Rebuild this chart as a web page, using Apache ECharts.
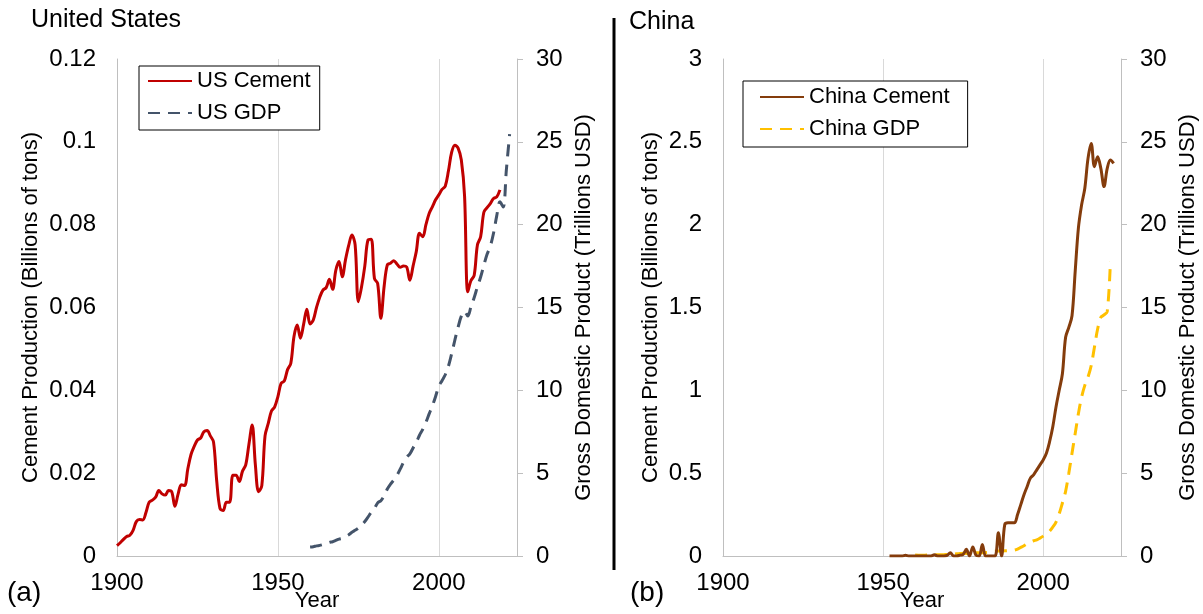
<!DOCTYPE html>
<html>
<head>
<meta charset="utf-8">
<script src="https://cdn.jsdelivr.net/npm/echarts@6/dist/echarts.min.js"></script>
<style>
  html, body { margin: 0; padding: 0; background: #fff; }
  #chart { width: 1203px; height: 614px; }
</style>
</head>
<body>
<div id="chart"></div>
<script>
// values
const usCementStart = 1900;
const usCement = [
  0.0025, 0.0032, 0.0040, 0.0047, 0.0050, 0.0062, 0.0083, 0.0088, 0.0087, 0.0105,
  0.0130, 0.0135, 0.0142, 0.0158, 0.0150, 0.0147, 0.0158, 0.0155, 0.0120, 0.0150,
  0.0172, 0.0170, 0.0210, 0.0245, 0.0265, 0.0280, 0.0285, 0.0300, 0.0303, 0.0290,
  0.0275, 0.0180, 0.0115, 0.0110, 0.0130, 0.0130, 0.0195, 0.0195, 0.0180, 0.0205,
  0.0220, 0.0270, 0.0316, 0.0220, 0.0155, 0.0170, 0.0290, 0.0320, 0.0350, 0.0360,
  0.0385, 0.0417, 0.0423, 0.0450, 0.0465, 0.0530, 0.0558, 0.0526, 0.0560, 0.0596,
  0.0560, 0.0570, 0.0600, 0.0625, 0.0642, 0.0648, 0.0668, 0.0644, 0.0690, 0.0711,
  0.0674, 0.0715, 0.0750, 0.0775, 0.0751, 0.0614, 0.0650, 0.0700, 0.0763, 0.0765,
  0.0670, 0.0658, 0.0574, 0.0650, 0.0703, 0.0707, 0.0713, 0.0705, 0.0697, 0.0700,
  0.0698, 0.0666, 0.0700, 0.0735, 0.0779, 0.0771, 0.0800, 0.0827, 0.0843, 0.0860,
  0.0872, 0.0885, 0.0893, 0.0930, 0.0975, 0.0992, 0.0985, 0.0956, 0.0870, 0.0638,
  0.0665, 0.0678, 0.0751, 0.0771, 0.0830, 0.0841, 0.0851, 0.0863, 0.0867, 0.0884
];

const usGdpStart = 1960;
const usGdp = [
  0.54, 0.56, 0.61, 0.64, 0.69, 0.74, 0.82, 0.86, 0.94, 1.02,
  1.07, 1.17, 1.28, 1.43, 1.55, 1.68, 1.87, 2.08, 2.35, 2.63,
  2.86, 3.21, 3.34, 3.63, 4.04, 4.34, 4.58, 4.86, 5.24, 5.64,
  5.96, 6.16, 6.52, 6.86, 7.29, 7.64, 8.07, 8.58, 9.06, 9.63,
  10.25, 10.58, 10.94, 11.46, 12.21, 13.04, 13.82, 14.48, 14.77, 14.48,
  15.05, 15.60, 16.25, 16.84, 17.55, 18.21, 18.70, 19.48, 20.53, 21.38,
  21.06, 23.32, 25.46
];

const chinaCementStart = 1952;
const chinaCement = [
  0, 0, 0, 0, 0, 0.004, 0, 0, 0, 0,
  0, 0, 0, 0, 0.007, 0, 0, 0, 0.004, 0.02,
  0, 0, 0.005, 0.01, 0.04, 0, 0.055, 0.005, 0, 0.07,
  0, 0, 0, 0, 0.14, 0, 0.19, 0.20, 0.20, 0.20,
  0.25, 0.31, 0.37, 0.42, 0.47, 0.49, 0.52, 0.55, 0.58, 0.62,
  0.69, 0.78, 0.90, 1.00, 1.10, 1.32, 1.38, 1.45, 1.72, 1.98,
  2.12, 2.22, 2.40, 2.49, 2.35, 2.41, 2.34, 2.23, 2.34, 2.39,
  2.37
];

const chinaGdpStart = 1960;
const chinaGdp = [
  0.06, 0.05, 0.047, 0.05, 0.06, 0.07, 0.076, 0.073, 0.071, 0.08,
  0.093, 0.10, 0.114, 0.14, 0.145, 0.163, 0.155, 0.175, 0.18, 0.19,
  0.20, 0.20, 0.21, 0.23, 0.26, 0.29, 0.30, 0.30, 0.31, 0.32,
  0.33, 0.36, 0.42, 0.52, 0.62, 0.74, 0.84, 0.92, 0.98, 1.08,
  1.20, 1.34, 1.50, 1.75, 2.05, 2.55, 3.20, 3.90, 5.00, 6.20,
  7.40, 8.60, 9.60, 10.30, 10.80, 11.50, 12.60, 13.70, 14.40, 14.55,
  14.75, 17.80
];

const yearTicks = [1900, 1950, 2000];

function pairs(start, values) {
  return values.map((v, i) => [start + i, v]);
}

const FONT = "'Liberation Sans', Arial, sans-serif";
const AXIS_GREY = '#bfbfbf';
const GRID_GREY = '#d9d9d9';

function xAxisFor(gridIndex) {
  return {
    gridIndex,
    type: 'value',
    min: 1900,
    max: 2024.3,
    interval: 50,
    name: 'Year',
    nameLocation: 'middle',
    nameGap: 34,
    nameMoveOverlap: false,
    nameTextStyle: { fontSize: 22, color: '#000', fontFamily: FONT },
    axisLine: { show: true, lineStyle: { color: AXIS_GREY, width: 1 } },
    axisTick: { show: false },
    axisLabel: {
      fontSize: 24, color: '#000', fontFamily: FONT, margin: 15,
      showMaxLabel: false,
      formatter: (v) => (yearTicks.includes(v) ? String(v) : '')
    },
    splitLine: { show: true, lineStyle: { color: GRID_GREY, width: 1 } }
  };
}

function leftAxis(gridIndex, max, interval, gap) {
  return {
    gridIndex,
    type: 'value',
    position: 'left',
    min: 0,
    max,
    interval,
    name: 'Cement Production (Billions of tons)',
    nameLocation: 'middle',
    nameGap: gap,
    nameTextStyle: { fontSize: 22, color: '#000', fontFamily: FONT },
    axisLine: { show: true, lineStyle: { color: AXIS_GREY, width: 1 } },
    axisTick: { show: false },
    axisLabel: { fontSize: 24, color: '#000', fontFamily: FONT, margin: 21 },
    splitLine: { show: false }
  };
}

function rightAxis(gridIndex) {
  return {
    gridIndex,
    type: 'value',
    position: 'right',
    min: 0,
    max: 30,
    interval: 5,
    name: 'Gross Domestic Product (Trillions USD)',
    nameLocation: 'middle',
    nameGap: 56,
    nameTextStyle: { fontSize: 22, color: '#000', fontFamily: FONT },
    axisLine: { show: true, lineStyle: { color: AXIS_GREY, width: 1 } },
    axisTick: { show: true, inside: false, length: 6, lineStyle: { color: AXIS_GREY } },
    axisLabel: { fontSize: 24, color: '#000', fontFamily: FONT, margin: 19 },
    splitLine: { show: false }
  };
}

function lineSeries(name, xi, yi, data, color, dashed) {
  return {
    name,
    type: 'line',
    xAxisIndex: xi,
    yAxisIndex: yi,
    data,
    symbol: 'none',
    smooth: 0.35,
    lineStyle: {
      color,
      width: 3,
      type: dashed ? [12, 8] : 'solid',
      cap: 'butt'
    },
    itemStyle: { color }
  };
}

const legendText = { fontSize: 22, color: '#000', fontFamily: FONT, lineHeight: 24 };

function legendBox(names, left, top, padding) {
  return {
    data: names,
    orient: 'vertical',
    left,
    top,
    itemWidth: 44,
    itemHeight: 4,
    itemGap: 8,
    padding,
    borderColor: '#000',
    borderWidth: 1,
    backgroundColor: '#fff',
    itemStyle: { opacity: 0 },
    textStyle: legendText
  };
}

const option = {
  animation: false,
  backgroundColor: '#fff',
  grid: [
    { left: 117, right: 1203 - 517, top: 59, height: 497, outerBoundsMode: 'none' },
    { left: 723, right: 1203 - 1121, top: 59, height: 497, outerBoundsMode: 'none' }
  ],
  xAxis: [xAxisFor(0), xAxisFor(1)],
  yAxis: [
    leftAxis(0, 0.12, 0.02, 75),
    rightAxis(0),
    leftAxis(1, 3, 0.5, 61),
    rightAxis(1)
  ],
  legend: [
    legendBox(['US Cement', 'US GDP'], 139, 66, [3, 9, 5, 8]),
    legendBox(['China Cement', 'China GDP'], 743, 81, [4, 18, 6, 16])
  ],
  graphic: [
    { type: 'text', left: 31, top: 8, style: { text: 'United States', font: `25px ${FONT}`, fill: '#000' } },
    { type: 'text', left: 629, top: 10, style: { text: 'China', font: `25px ${FONT}`, fill: '#000' } },
    { type: 'text', left: 7, top: 579, style: { text: '(a)', font: `28px ${FONT}`, fill: '#000' } },
    { type: 'text', left: 630, top: 579, style: { text: '(b)', font: `28px ${FONT}`, fill: '#000' } },
    { type: 'line', shape: { x1: 614, y1: 18, x2: 614, y2: 570 }, style: { stroke: '#000', lineWidth: 3 } }
  ],
  series: [
    lineSeries('US GDP', 0, 1, pairs(usGdpStart, usGdp), '#44546A', true),
    lineSeries('US Cement', 0, 0, pairs(usCementStart, usCement), '#C00000', false),
    lineSeries('China GDP', 1, 3, pairs(chinaGdpStart, chinaGdp), '#FFC000', true),
    lineSeries('China Cement', 1, 2, pairs(chinaCementStart, chinaCement), '#843C0C', false)
  ]
};

const chart = echarts.init(document.getElementById('chart'), null, { renderer: 'canvas' });
chart.setOption(option);
</script>
</body>
</html>
